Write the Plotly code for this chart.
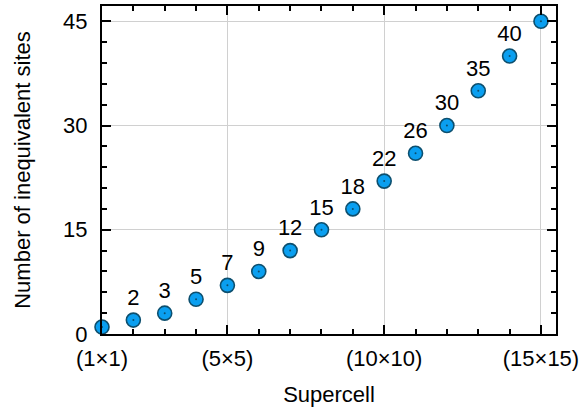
import plotly.graph_objects as go

supercell = list(range(1, 16))
sites = [1, 2, 3, 5, 7, 9, 12, 15, 18, 22, 26, 30, 35, 40, 45]
point_labels = ["", "2", "3", "5", "7", "9", "12", "15", "18", "22", "26", "30", "35", "40", ""]
x_tickvals = [1, 5, 10, 15]
x_ticktext = ["(1×1)", "(5×5)", "(10×10)", "(15×15)"]
y_tickvals = [0, 15, 30, 45]

FONT = "Liberation Sans, Arial, sans-serif"

fig = go.Figure()
fig.add_trace(go.Scatter(
    x=supercell, y=sites, mode="markers+text",
    text=point_labels, textposition="top center",
    textfont=dict(size=22, color="black", family=FONT),
    marker=dict(size=14, color="#0a9ff0", line=dict(color="#0d4f6e", width=1.6)),
    cliponaxis=False, showlegend=False,
))
fig.add_trace(go.Scatter(
    x=supercell, y=sites, mode="markers",
    marker=dict(size=2, color="#0d4f6e"),
    cliponaxis=False, showlegend=False, hoverinfo="skip",
))

axis_common = dict(
    showline=True, linecolor="black", linewidth=2, mirror="allticks",
    ticks="inside", tickcolor="black", tickwidth=1.5, ticklen=9,
    showgrid=True, gridcolor="#d0d0d0", gridwidth=1, zeroline=False,
    tickfont=dict(size=22, color="black", family=FONT),
    title_font=dict(size=22, color="black", family=FONT),
    automargin=False,
)

fig.update_xaxes(
    range=[1, 15.48], tickmode="array", tickvals=x_tickvals, ticktext=x_ticktext,
    title_text="Supercell", title_standoff=16, ticklabelstandoff=4,
    minor=dict(tickmode="linear", tick0=1, dtick=1, ticks="inside", ticklen=5,
               tickcolor="black", tickwidth=1.5, showgrid=False),
    **axis_common,
)
fig.update_yaxes(
    range=[0, 47.2], tickmode="array", tickvals=y_tickvals,
    title_text="Number of inequivalent sites", title_standoff=26, ticklabelstandoff=8,
    minor=dict(tickmode="linear", tick0=0, dtick=3, ticks="inside", ticklen=5,
               tickcolor="black", tickwidth=1.5, showgrid=False),
    **axis_common,
)

fig.update_layout(
    width=582, height=410,
    margin=dict(l=102, r=26, t=6, b=76),
    plot_bgcolor="white", paper_bgcolor="white",
    font=dict(family=FONT, color="black"),
)

fig.write_html("out.html", config={"displayModeBar": False},
               post_script="document.body.style.margin='0';document.body.style.padding='0';")
